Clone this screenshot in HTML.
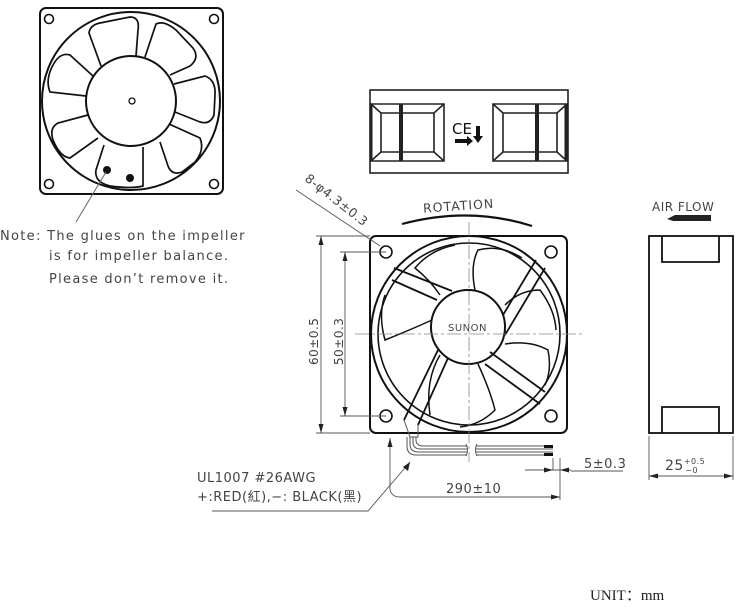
<!DOCTYPE html>
<html><head><meta charset="utf-8"><style>
html,body{margin:0;padding:0;background:#fff;}
svg{display:block;}
text{font-family:"DejaVu Sans","Liberation Sans",sans-serif;fill:#444;}
</style></head><body>
<svg width="750" height="608" viewBox="0 0 750 608" xmlns="http://www.w3.org/2000/svg">
<g fill="none" stroke="#111" stroke-width="2">
<rect x="40" y="8" width="183" height="186" rx="6"/>
<circle cx="49" cy="19" r="4.5" stroke-width="1.6"/><circle cx="214" cy="19" r="4.5" stroke-width="1.6"/>
<circle cx="49" cy="184" r="4.5" stroke-width="1.6"/><circle cx="214" cy="184" r="4.5" stroke-width="1.6"/>
<circle cx="131" cy="101" r="89"/>
<circle cx="131" cy="101" r="45"/>
<circle cx="132" cy="101" r="3" stroke-width="1.3"/>
<path d="M101,66 L89,33 Q90,25 100,23 L130,17 Q140,17 138,30 L136,56" stroke-width="1.7"/>
<path d="M145,57 L156,24 Q164,20 176,30 L193,48 Q200,58 190,66 L170,75" stroke-width="1.7"/>
<path d="M174,84 L205,76 Q216,80 215,95 L214,115 Q210,125 200,122 L175,112" stroke-width="1.7"/>
<path d="M169,124 L200,138 Q205,150 195,162 L182,172 Q172,176 168,166 L160,142" stroke-width="1.7"/>
<path d="M143,147 L143,186 Q132,189 110,186 Q94,182 96,170 L104,145" stroke-width="1.7"/>
<path d="M98,138 L70,158 Q60,157 53,140 Q49,128 58,123 L88,115" stroke-width="1.7"/>
<path d="M86,96 L50,92 Q45,80 53,65 Q60,52 70,55 L93,76" stroke-width="1.7"/>
<circle cx="107" cy="170" r="3" fill="#111"/><circle cx="130" cy="178" r="3" fill="#111"/>
</g>
<line x1="106" y1="172" x2="76" y2="222" stroke="#666" stroke-width="1"/>
<g font-size="13" letter-spacing="1.3">
<text x="0" y="240">Note:  The glues on the impeller</text>
<text x="49" y="260">is for impeller balance.</text>
<text x="49" y="283">Please don’t remove it.</text>
</g>

<g fill="none" stroke="#222" stroke-width="1.6">
<rect x="370" y="90" width="198" height="83"/>
<path d="M371,104 H444 V161 H371 Z"/>
<path d="M371,104 L381,113 V152 L371,161 M381,113 H434 L444,104 M381,152 H434 L444,161 M434,113 V152"/>
<line x1="401" y1="104" x2="401" y2="161" stroke-width="4"/>
<path d="M493,104 H567 V161 H493 Z"/>
<path d="M493,104 L503,113 V152 L493,161 M503,113 H557 L567,104 M503,152 H557 L567,161 M557,113 V152"/>
<line x1="537" y1="104" x2="537" y2="161" stroke-width="4"/>
<line x1="371" y1="104" x2="371" y2="161" stroke-width="3"/>
<line x1="566" y1="104" x2="566" y2="161" stroke-width="3"/>
</g>
<text x="452" y="134" font-size="15" style="fill:#111">CE</text>
<path d="M455,139 h12 v-3 l6,5 l-6,5 v-3 h-12z M476,126 h4 v10 h3 l-5,7 l-5,-7 h3z" fill="#111"/>

<g fill="none" stroke="#111" stroke-width="2">
<rect x="370" y="236" width="197" height="197" rx="6"/>
<circle cx="469" cy="334" r="98"/>
<circle cx="469" cy="334" r="91" stroke-width="1.6"/>
<circle cx="468" cy="327" r="37"/>
<g stroke-width="1.6">
<circle cx="386" cy="252" r="6"/><circle cx="551" cy="252" r="6"/>
<circle cx="386" cy="416" r="6"/><circle cx="551" cy="416" r="6"/>
</g>
<path d="M394,268 L452,291 M392,280 L437,300" stroke-width="1.8"/>
<path d="M536,260 L503,315 M545,268 L505,335" stroke-width="1.8"/>
<path d="M545,392 L490,352 M540,404 L485,364" stroke-width="1.8"/>
<path d="M404,420 L438,350 M418,425 L448,358" stroke-width="1.8"/>
<g stroke-width="1.5">
<path d="M475,290 Q470,265 478,250 Q500,244 522,258"/>
<path d="M505,305 Q520,290 540,290 Q555,310 556,330"/>
<path d="M505,344 Q530,340 548,350 Q552,370 545,385"/>
<path d="M478,364 Q490,390 495,410 Q480,425 460,427"/>
<path d="M440,355 Q425,380 430,415"/>
<path d="M432,320 Q410,330 385,340 Q378,315 385,295"/>
<path d="M440,295 Q430,280 415,268 Q430,250 455,245"/>
</g>
</g>
<text x="448" y="331" font-size="10" letter-spacing="0.5">SUNON</text>
<g stroke="#888" stroke-width="0.8" stroke-dasharray="14,3,3,3">
<line x1="469" y1="222" x2="469" y2="462"/>
<line x1="355" y1="334" x2="584" y2="334"/>
</g>
<g fill="none" stroke="#555" stroke-width="1">
<path d="M404,420 L410,437 L418,437 L418,425"/>
<path d="M407,437 V446 Q407,455 416,455 H467 M476,455 H553"/>
<path d="M410,437 V444 Q410,452 418,452 H467 M476,452 H553"/>
<path d="M413,437 V442 Q413,449 421,449 H467 M476,449 H553"/>
<path d="M416,437 V440 Q416,446 424,446 H467 M476,446 H553"/>
<path d="M466,444 q3,6 0,12 M477,444 q-3,6 0,12"/>
</g>
<rect x="544" y="445" width="9" height="3" fill="#111"/><rect x="544" y="453" width="9" height="3" fill="#111"/>

<g stroke="#555" stroke-width="0.9" fill="none">
<line x1="316" y1="236" x2="370" y2="236"/><line x1="316" y1="433" x2="370" y2="433"/>
<line x1="321" y1="236" x2="321" y2="433"/>
<line x1="340" y1="252" x2="386" y2="252"/><line x1="340" y1="416" x2="386" y2="416"/>
<line x1="345" y1="252" x2="345" y2="416"/>
<line x1="296" y1="190" x2="380" y2="246"/>
<path d="M402,224 Q469,206 532,226" stroke="#111" stroke-width="2.2"/>
<line x1="390" y1="438" x2="390" y2="490"/>
<path d="M390,490 Q392,497 400,497 H560"/>
<line x1="560" y1="458" x2="560" y2="500"/><line x1="553" y1="458" x2="553" y2="470"/>
<line x1="525" y1="470" x2="571" y2="470"/>
<line x1="571" y1="471" x2="623" y2="471"/>
<path d="M212,511 H368 L410,462"/>
<line x1="649" y1="436" x2="649" y2="480"/><line x1="733" y1="436" x2="733" y2="480"/>
<line x1="649" y1="476" x2="733" y2="476"/>
</g>
<g fill="#222">
<path d="M321,236 l-2.5,9 h5z M321,433 l-2.5,-9 h5z"/>
<path d="M345,252 l-2.5,9 h5z M345,416 l-2.5,-9 h5z"/>
<path d="M390,438 l-2.5,9 h5z"/>
<path d="M560,497 l-9,-2.5 v5z"/>
<path d="M553,470 l-9,-2.5 v5z M560,470 l9,-2.5 v5z"/>
<path d="M410,462 l-2,9 l-5,-4z"/>
<path d="M649,476 l9,-2.5 v5z M733,476 l-9,-2.5 v5z"/>
</g>
<g font-size="12" letter-spacing="0.5">
<text transform="translate(318,365) rotate(-90)">60±0.5</text>
<text transform="translate(343,365) rotate(-90)">50±0.3</text>
<text transform="translate(304,180) rotate(38)" font-size="12.5">8-φ4.3±0.3</text>
<text x="423" y="210" transform="rotate(-4 462 206)" font-size="12.5" letter-spacing="1">ROTATION</text>
<text x="652" y="211">AIR FLOW</text>
<text x="584" y="468" font-size="13">5±0.3</text>
<text x="446" y="493" font-size="13">290±10</text>
<text x="665" y="470" font-size="14">25<tspan font-size="8" dy="-6">+0.5</tspan><tspan font-size="8" dx="-20" dy="9">−0</tspan></text>
<text x="197" y="482" font-size="13">UL1007  #26AWG</text>
<text x="197" y="501" font-size="13">+:RED(紅),−: BLACK(黑)</text>
</g>
<path d="M667,219 L675,215 H711 V221 H673z" fill="#222"/>
<g fill="none" stroke="#111" stroke-width="1.8">
<rect x="649" y="236" width="84" height="197"/>
<path d="M662,236 V262 H719 V236 M662,433 V407 H719 V433"/>
</g>
<text x="590" y="600" font-size="15" style="font-family:'Liberation Serif',serif;fill:#222">UNIT：mm</text>
</svg>
</body></html>
